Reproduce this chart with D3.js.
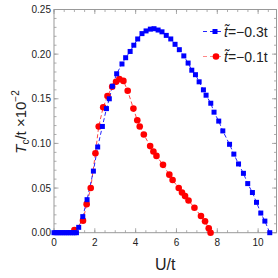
<!DOCTYPE html>
<html>
<head>
<meta charset="utf-8">
<script src="https://cdn.jsdelivr.net/npm/d3@7"></script>
<style>
  body { margin: 0; background: #fff; }
  svg { display: block; font-family: "Liberation Sans", Arial, sans-serif; }
</style>
</head>
<body>
<svg width="278" height="278"></svg>
<script>
// data
const blueU = [0, 0.1, 0.2, 0.3, 0.4, 0.5, 0.6, 0.7, 0.8, 0.9, 1.0, 1.1,
  1.21, 1.41, 1.62, 1.93, 2.14, 2.37, 2.57, 2.71, 2.86, 3.07, 3.33, 3.51, 3.73, 3.91,
  4.10, 4.31, 4.51, 4.72, 4.90, 5.10, 5.29, 5.50, 5.72, 5.93, 6.14, 6.36, 6.57, 6.75,
  6.93, 7.11, 7.32, 7.45, 7.68, 7.84, 8.07, 8.27, 8.60, 8.81, 9.04, 9.28, 9.49, 9.72,
  9.92, 10.13, 10.33, 10.57];
const blueTc = [0, 0, 0, 0, 0, 0, 0, 0, 0, 0, 0, 0,
  0.006, 0.018, 0.037, 0.069, 0.096, 0.119, 0.139, 0.150, 0.164, 0.178, 0.189, 0.196, 0.203, 0.210,
  0.217, 0.223, 0.226, 0.228, 0.2285, 0.227, 0.225, 0.221, 0.217, 0.211, 0.205, 0.198, 0.190, 0.182,
  0.177, 0.169, 0.160, 0.154, 0.145, 0.135, 0.125, 0.114, 0.099, 0.088, 0.077, 0.0665, 0.055, 0.045,
  0.034, 0.022, 0.013, 0.0];

const redU = [0, 1.0, 1.42, 1.60, 1.80, 2.03, 2.19, 2.41, 2.62, 2.85, 3.04, 3.20, 3.40, 3.61,
  3.89, 4.08, 4.20, 4.40, 4.71, 4.87, 5.02, 5.34, 5.65, 5.81, 6.11, 6.27, 6.42, 6.59,
  6.88, 7.20, 7.40, 7.58, 7.67];
const redTc = [0, 0.003, 0.0135, 0.032, 0.050, 0.089, 0.119, 0.1405, 0.153, 0.1635, 0.169, 0.172, 0.170, 0.159,
  0.139, 0.126, 0.119, 0.110, 0.097, 0.091, 0.086, 0.076, 0.065, 0.059, 0.050, 0.045, 0.041, 0.036,
  0.028, 0.0187, 0.0127, 0.005, 0.0];

const xTicks = [0, 2, 4, 6, 8, 10];
const yTicks = [0, 0.05, 0.10, 0.15, 0.20, 0.25];
const legendLabels = ["=\u22120.3t", "=\u22120.1t"];

const plotLeft = 54, plotRight = 276.5, plotTop = 9.5, plotBottom = 232.7;

const svg = d3.select("svg");

const x = d3.scaleLinear().domain([0, 10.9]).range([plotLeft, plotRight]);
const y = d3.scaleLinear().domain([0, 0.25]).range([plotBottom, plotTop]);

const blue = blueU.map((u, i) => ({u: u, t: blueTc[i]}));
const red = redU.map((u, i) => ({u: u, t: redTc[i]}));

const frameColor = "#999";
const labelColor = "#222";

// frame
svg.append("rect")
  .attr("x", plotLeft).attr("y", plotTop)
  .attr("width", plotRight - plotLeft).attr("height", plotBottom - plotTop)
  .attr("fill", "none")
  .attr("stroke", frameColor)
  .attr("stroke-width", 1);

// ticks inside on all sides
const xMinor = d3.range(0, 10.9, 0.5);
const yMinor = d3.range(0, 0.2501, 0.01);

function drawXTicks(vals, len) {
  vals.forEach(v => {
    svg.append("line").attr("x1", x(v)).attr("x2", x(v))
      .attr("y1", plotBottom).attr("y2", plotBottom - len)
      .attr("stroke", frameColor).attr("stroke-width", 0.8);
    svg.append("line").attr("x1", x(v)).attr("x2", x(v))
      .attr("y1", plotTop).attr("y2", plotTop + len)
      .attr("stroke", frameColor).attr("stroke-width", 0.8);
  });
}
function drawYTicks(vals, len) {
  vals.forEach(v => {
    svg.append("line").attr("x1", plotLeft).attr("x2", plotLeft + len)
      .attr("y1", y(v)).attr("y2", y(v))
      .attr("stroke", frameColor).attr("stroke-width", 0.8);
    svg.append("line").attr("x1", plotRight).attr("x2", plotRight - len)
      .attr("y1", y(v)).attr("y2", y(v))
      .attr("stroke", frameColor).attr("stroke-width", 0.8);
  });
}
drawXTicks(xMinor, 2.5);
drawXTicks(xTicks, 4.5);
drawYTicks(yMinor, 2.5);
drawYTicks(yTicks, 4.5);

// tick labels
svg.selectAll(".xlab")
  .data(xTicks)
  .enter().append("text")
  .attr("x", d => x(d))
  .attr("y", 246)
  .attr("text-anchor", "middle")
  .attr("font-size", "10px")
  .attr("fill", labelColor)
  .text(d => d);

svg.selectAll(".ylab")
  .data(yTicks)
  .enter().append("text")
  .attr("x", 51)
  .attr("y", d => y(d) + 3.6)
  .attr("text-anchor", "end")
  .attr("font-size", "10px")
  .attr("fill", labelColor)
  .text(d => d3.format(".2f")(d));

// axis titles
svg.append("text")
  .attr("x", (plotLeft + plotRight) / 2)
  .attr("y", 270)
  .attr("text-anchor", "middle")
  .attr("font-size", "16px")
  .attr("fill", labelColor)
  .text("U/t");

const yTitle = svg.append("text")
  .attr("transform", "translate(26," + 122 + ") rotate(-90)")
  .attr("text-anchor", "middle")
  .attr("font-size", "15px")
  .attr("fill", labelColor);
yTitle.append("tspan").attr("font-style", "italic").text("T");
yTitle.append("tspan").attr("font-size", "10px").attr("dy", 3).text("c");
yTitle.append("tspan").attr("dy", -3).text("/t \u00d710");
yTitle.append("tspan").attr("font-size", "10px").attr("dy", -7).text("\u22122");

// lines
const line = d3.line().x(d => x(d.u)).y(d => y(d.t));

svg.append("path")
  .datum(red)
  .attr("d", line)
  .attr("fill", "none")
  .attr("stroke", "#ff4444")
  .attr("stroke-width", 1)
  .attr("stroke-dasharray", "4,2.5");

svg.append("path")
  .datum(blue)
  .attr("d", line)
  .attr("fill", "none")
  .attr("stroke", "#2222ff")
  .attr("stroke-width", 1)
  .attr("stroke-dasharray", "4,2.5");

// markers
svg.selectAll(".redpt")
  .data(red.filter((d, i) => i > 0))
  .enter().append("circle")
  .attr("cx", d => x(d.u))
  .attr("cy", d => y(d.t))
  .attr("r", 3.3)
  .attr("fill", "#ff0000");

const sq = 5;
svg.selectAll(".bluept")
  .data(blue)
  .enter().append("rect")
  .attr("x", d => x(d.u) - sq / 2)
  .attr("y", d => y(d.t) - sq / 2)
  .attr("width", sq)
  .attr("height", sq)
  .attr("fill", "#0000ff");

// legend
const legendColors = [["#2222ff", "#0000ff"], ["#ff8888", "#ff0000"]];
legendLabels.forEach((lab, i) => {
  const ly = 31.5 + i * 25;
  svg.append("line")
    .attr("x1", 203).attr("x2", 222)
    .attr("y1", ly).attr("y2", ly)
    .attr("stroke", legendColors[i][0])
    .attr("stroke-width", 1)
    .attr("stroke-dasharray", "4,3");
  if (i === 0) {
    svg.append("rect")
      .attr("x", 215 - sq / 2).attr("y", ly - sq / 2)
      .attr("width", sq).attr("height", sq)
      .attr("fill", legendColors[i][1]);
  } else {
    svg.append("circle")
      .attr("cx", 216).attr("cy", ly).attr("r", 3.3)
      .attr("fill", legendColors[i][1]);
  }
  const t = svg.append("text")
    .attr("x", 224).attr("y", ly + 5)
    .attr("font-size", "14px")
    .attr("fill", labelColor);
  t.append("tspan").attr("font-style", "italic").text("t\u0303");
  t.append("tspan").text(lab);
});
</script>
</body>
</html>
